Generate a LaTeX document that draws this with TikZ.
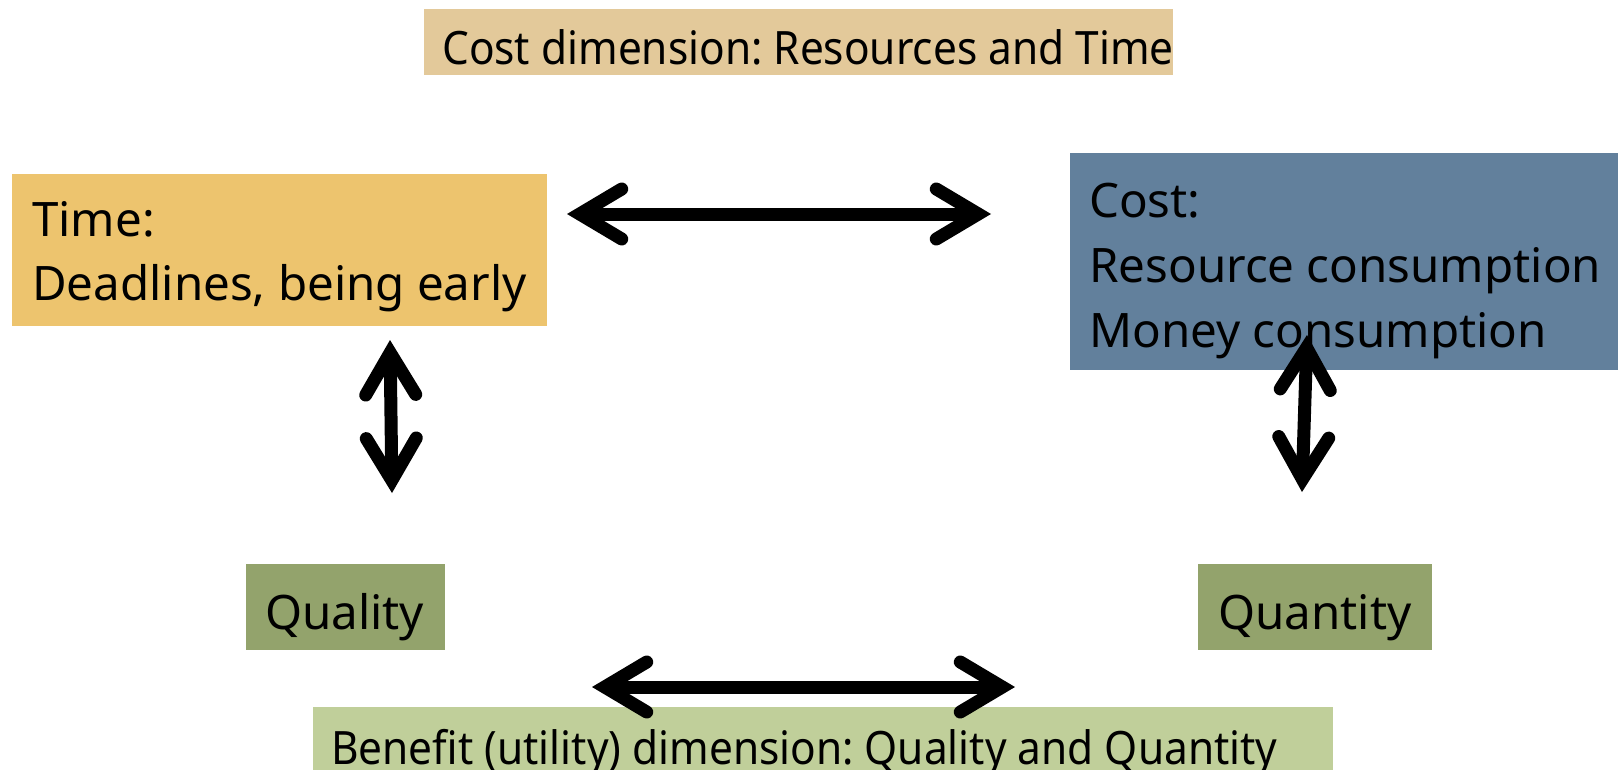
\documentclass[tikz,border=0pt]{standalone}
\usepackage{fontspec}
\setmainfont{Noto Sans}
\newfontfamily\condfont{Noto Sans}[FakeStretch=0.922]
\usetikzlibrary{arrows.meta}
\definecolor{titlefill}{RGB}{227,201,154}
\definecolor{timefill}{RGB}{237,196,110}
\definecolor{costfill}{RGB}{98,128,156}
\definecolor{qfill}{RGB}{147,163,108}
\definecolor{benefill}{RGB}{192,207,154}
\tikzset{
  box/.style={rectangle, inner sep=0pt, outer sep=0pt, anchor=north west},
  lbl/.style={anchor=base west, inner sep=0pt, font=\fontsize{47.5}{64}\selectfont},
  clbl/.style={anchor=base west, inner sep=0pt, font=\condfont\fontsize{46}{60}\selectfont},
  mybarb/.tip={Straight Barb[length=42pt,width=50pt,line cap=round,line join=miter]},
  dbl/.style={line width=13pt, {mybarb}-{mybarb}}
}
\begin{document}
\frenchspacing
\begin{tikzpicture}[x=1pt,y=-1pt]
\useasboundingbox (0,0) rectangle (1618,769);
% boxes
\node[box, fill=titlefill, minimum width=749pt, minimum height=66pt] (titlebox) at (424,9) {};
\node[box, fill=timefill, minimum width=535pt, minimum height=152pt] (timebox) at (12,174) {};
\node[box, fill=costfill, minimum width=548pt, minimum height=217pt] (costbox) at (1070,153) {};
\node[box, fill=qfill, minimum width=199pt, minimum height=86pt] (qualbox) at (246,564) {};
\node[box, fill=qfill, minimum width=234pt, minimum height=86pt] (quanbox) at (1198,564) {};
\node[box, fill=benefill, minimum width=1020pt, minimum height=70pt] (benebox) at (313,707) {};
% texts
\node[clbl] (titletext) at (442,64) {Cost dimension: Resources and Time};
\node[lbl] (time1) at (32,236) {Time:};
\node[lbl] (time2) at (32,300) {Deadlines, being early};
\node[lbl] (cost1) at (1089,217) {Cost:};
\node[lbl] (cost2) at (1089,282) {Resource consumption};
\node[lbl] (cost3) at (1089,347) {Money consumption};
\node[lbl] (qualtext) at (265,629) {Quality};
\node[lbl] (quantext) at (1218,629) {Quantity};
\node[clbl] (benetext) at (331,764) {Benefit (utility) dimension: Quality and Quantity};
% arrow ends
\coordinate (tA) at (567,214);
\coordinate (tB) at (991,214);
\coordinate (bA) at (592,687);
\coordinate (bB) at (1015,687);
\coordinate (lA) at (390,340);
\coordinate (lB) at (392,493);
\coordinate (rA) at (1307,335);
\coordinate (rB) at (1302,492);
\draw[dbl] (tA) -- (tB);
\draw[dbl] (bA) -- (bB);
\draw[dbl] (lA) -- (lB);
\draw[dbl] (rA) -- (rB);
\end{tikzpicture}
\end{document}
